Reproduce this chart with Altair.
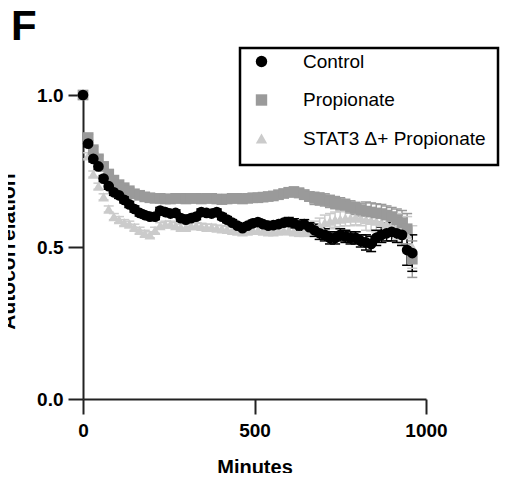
import altair as alt
import pandas as pd

groups = ["Control", "Propionate", "STAT3 Δ+ Propionate"]
colors = ["#000000", "#9a9a9a", "#cbcbcb"]
shapes = ["circle", "square", "triangle-up"]

minutes = list(range(0, 961, 15))

control = [1.00, 0.84, 0.79, 0.765, 0.725, 0.70, 0.68, 0.67, 0.655, 0.64,
           0.625, 0.612, 0.605, 0.60, 0.60, 0.62, 0.615, 0.61, 0.612, 0.595,
           0.59, 0.595, 0.60, 0.615, 0.612, 0.61, 0.615, 0.60, 0.59, 0.58,
           0.57, 0.562, 0.57, 0.578, 0.582, 0.575, 0.57, 0.572, 0.575, 0.58,
           0.582, 0.578, 0.57, 0.575, 0.565, 0.555, 0.545, 0.54, 0.53, 0.53,
           0.54, 0.535, 0.53, 0.53, 0.52, 0.515, 0.51, 0.53, 0.54, 0.545,
           0.55, 0.545, 0.54, 0.49, 0.48]
control_err = [0.0, 0.01, 0.01, 0.01, 0.01, 0.01, 0.01, 0.01, 0.01, 0.01,
               0.01, 0.01, 0.01, 0.01, 0.01, 0.01, 0.01, 0.01, 0.01, 0.01,
               0.01, 0.01, 0.01, 0.01, 0.01, 0.01, 0.01, 0.01, 0.01, 0.01,
               0.01, 0.01, 0.01, 0.01, 0.01, 0.01, 0.01, 0.01, 0.01, 0.01,
               0.015, 0.015, 0.015, 0.015, 0.015, 0.02, 0.02, 0.02, 0.02, 0.02,
               0.02, 0.02, 0.02, 0.02, 0.02, 0.025, 0.025, 0.025, 0.025, 0.025,
               0.03, 0.03, 0.035, 0.05, 0.06]

propionate = [1.00, 0.86, 0.82, 0.79, 0.765, 0.74, 0.72, 0.705, 0.695, 0.685,
              0.675, 0.67, 0.665, 0.662, 0.66, 0.66, 0.658, 0.658, 0.66, 0.66,
              0.658, 0.66, 0.66, 0.658, 0.66, 0.66, 0.658, 0.656, 0.658, 0.66,
              0.66, 0.658, 0.66, 0.662, 0.662, 0.664, 0.666, 0.668, 0.672, 0.676,
              0.68, 0.682, 0.678, 0.672, 0.666, 0.66, 0.658, 0.655, 0.65, 0.646,
              0.642, 0.637, 0.632, 0.627, 0.622, 0.618, 0.615, 0.612, 0.61, 0.605,
              0.60, 0.59, 0.58, 0.56, 0.46]
propionate_err = [0.0, 0.01, 0.01, 0.01, 0.01, 0.01, 0.01, 0.01, 0.01, 0.01,
                  0.01, 0.01, 0.01, 0.01, 0.01, 0.01, 0.01, 0.01, 0.01, 0.01,
                  0.01, 0.01, 0.01, 0.01, 0.01, 0.01, 0.01, 0.01, 0.01, 0.01,
                  0.01, 0.01, 0.01, 0.01, 0.01, 0.01, 0.01, 0.01, 0.01, 0.01,
                  0.015, 0.015, 0.015, 0.015, 0.015, 0.02, 0.02, 0.02, 0.02, 0.02,
                  0.02, 0.02, 0.02, 0.02, 0.02, 0.03, 0.03, 0.03, 0.03, 0.03,
                  0.03, 0.035, 0.04, 0.05, 0.06]

stat3 = [1.00, 0.80, 0.74, 0.70, 0.665, 0.625, 0.60, 0.59, 0.58, 0.575,
         0.565, 0.555, 0.545, 0.54, 0.555, 0.57, 0.575, 0.575, 0.57, 0.565,
         0.565, 0.57, 0.57, 0.568, 0.565, 0.565, 0.562, 0.56, 0.558, 0.555,
         0.552, 0.55, 0.552, 0.555, 0.555, 0.552, 0.55, 0.55, 0.552, 0.555,
         0.555, 0.552, 0.55, 0.55, 0.553, 0.56, 0.57, 0.58, 0.585, 0.59,
         0.592, 0.595, 0.595, 0.598, 0.595, 0.59, 0.588, 0.585, 0.58, 0.575,
         0.57, 0.565, 0.56, 0.54, 0.50]
stat3_err = [0.0, 0.01, 0.01, 0.01, 0.01, 0.01, 0.01, 0.01, 0.01, 0.01,
             0.01, 0.01, 0.01, 0.01, 0.01, 0.01, 0.01, 0.01, 0.01, 0.01,
             0.01, 0.01, 0.01, 0.01, 0.01, 0.01, 0.01, 0.01, 0.01, 0.01,
             0.01, 0.01, 0.01, 0.01, 0.01, 0.01, 0.01, 0.01, 0.01, 0.01,
             0.015, 0.015, 0.015, 0.015, 0.015, 0.025, 0.025, 0.025, 0.025, 0.025,
             0.025, 0.025, 0.025, 0.025, 0.025, 0.035, 0.035, 0.035, 0.035, 0.035,
             0.035, 0.04, 0.05, 0.06, 0.07]

series = [("STAT3 Δ+ Propionate", stat3, stat3_err, 0),
          ("Propionate", propionate, propionate_err, 1),
          ("Control", control, control_err, 2)]

rows = []
for name, vals, errs, k in series:
    for i, (t, v, e) in enumerate(zip(minutes, vals, errs)):
        rows.append({"t": t, "v": v, "lo": v - e, "hi": v + e,
                     "group": name, "ord": k * 1000 + i})
df = pd.DataFrame(rows)

FONT = "Liberation Sans"

legend = alt.Legend(title=None, orient="none", legendX=157, legendY=-43,
                    padding=0, labelFontSize=19, labelFont=FONT, labelColor="black",
                    symbolSize=130, symbolOffset=12, labelOffset=32,
                    rowPadding=18.5, symbolStrokeWidth=0, labelLimit=400)

color = alt.Color("group:N", scale=alt.Scale(domain=groups, range=colors), legend=legend)
shape = alt.Shape("group:N", scale=alt.Scale(domain=groups, range=shapes), legend=legend)

xenc = alt.X("t:Q", scale=alt.Scale(domain=[0, 1000], nice=False),
             axis=alt.Axis(values=[0, 500, 1000], format="d", title="Minutes", grid=False,
                           labelFlush=False,
                           domainColor="#222", domainWidth=2, tickColor="#222",
                           tickWidth=2, tickSize=15, labelPadding=7,
                           labelFont=FONT, labelFontSize=19, labelFontWeight="bold",
                           labelColor="black", titleFont=FONT, titleFontSize=20,
                           titleFontWeight="bold", titleColor="black",
                           titleBaseline="alphabetic", titleY=74))
yenc = alt.Y("v:Q", scale=alt.Scale(domain=[0, 1], nice=False),
             axis=alt.Axis(values=[0, 0.5, 1], format=".1f", title="Autocorrelation",
                           grid=False, labelFlush=False, domainColor="#222", domainWidth=2,
                           tickColor="#222", tickWidth=2, tickSize=15, labelPadding=5,
                           labelFont=FONT, labelFontSize=19, labelFontWeight="bold",
                           labelColor="black", titleFont=FONT, titleFontSize=21,
                           titleFontWeight="bold", titleColor="black",
                           titleBaseline="alphabetic", titleX=-69, titleY=156))

base = alt.Chart(df)

err_rule = base.mark_rule(strokeWidth=1.5).encode(
    x=xenc, y=alt.Y("lo:Q"), y2="hi:Q", color=color)
cap_lo = base.mark_tick(orient="horizontal", size=10, thickness=1.5, opacity=1).encode(
    x="t:Q", y="lo:Q", color=color)
cap_hi = base.mark_tick(orient="horizontal", size=10, thickness=1.5, opacity=1).encode(
    x="t:Q", y="hi:Q", color=color)
points = base.mark_point(filled=True, size=115, opacity=1).encode(
    x=xenc, y=yenc, color=color, shape=shape, order=alt.Order("ord:Q"))

legend_box = alt.Chart(pd.DataFrame({"k": [0]})).mark_rect(
    fill="white", stroke="black", strokeWidth=2.5).encode(
    x=alt.value(157), x2=alt.value(415), y=alt.value(-47), y2=alt.value(70))

panel = alt.Chart(pd.DataFrame({"lab": ["F"]})).mark_text(
    font=FONT, fontSize=42, fontWeight="bold", align="left", baseline="alphabetic",
    color="black").encode(x=alt.value(-72), y=alt.value(-55), text="lab:N")
stray = alt.Chart(pd.DataFrame({"lab": ["0"]})).mark_text(
    font=FONT, fontSize=19, fontWeight="bold", align="right", baseline="alphabetic",
    color="black").encode(x=alt.value(-76), y=alt.value(333), text="lab:N")

chart = alt.layer(legend_box, err_rule, cap_lo, cap_hi, points, panel, stray).properties(
    width=343, height=304,
    autosize=alt.AutoSizeParams(type="none"),
    padding={"left": 75, "top": 87, "right": 74, "bottom": 74},
).configure_view(stroke=None)

chart.save("out.html", embed_options={"renderer": "svg", "actions": False})
